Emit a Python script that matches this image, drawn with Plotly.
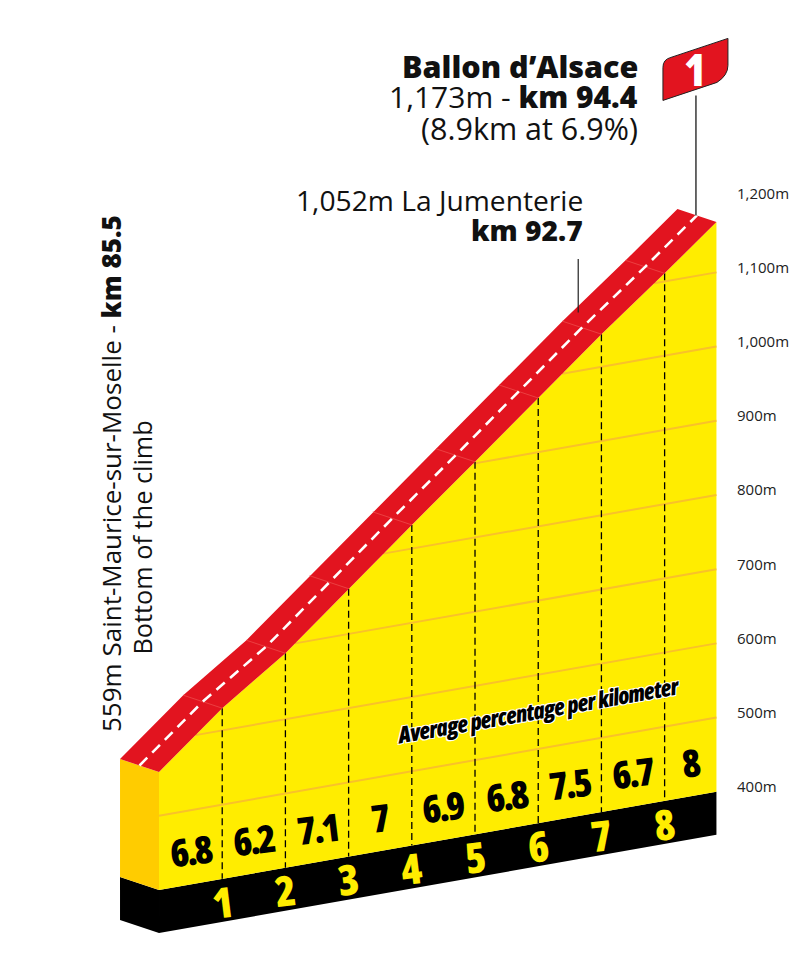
import numpy as np
import plotly.graph_objects as go

# climb profile, km from the bottom of the climb and altitude in metres
km_marks = [0, 1, 2, 3, 4, 5, 6, 7, 8, 8.82]
altitude = [559, 630, 689, 761, 832, 902, 973, 1044, 1111, 1168]
gradients = ["6.8", "6.2", "7.1", "7", "6.9", "6.8", "7.5", "6.7", "8"]
km_labels = ["1", "2", "3", "4", "5", "6", "7", "8"]
tick_alt = [400, 500, 600, 700, 800, 900, 1000, 1100, 1200]
tick_text = ["400m", "500m", "600m", "700m", "800m", "900m", "1,000m", "1,100m", "1,200m"]
grid_alt = [500, 600, 700, 800, 900, 1000, 1100]
km_jumenterie = 7.25
alt_jumenterie = 1052

YELLOW = "#FFED00"
ORANGE = "#FFCC00"
GRID = "#F9C12A"
RED = "#E2141F"
SEAM = "#EE4A4A"

SHEAR = 15.0        # the whole drawing leans up to the right, m per km
KM_REF = 9.25       # km where the altitude axis reads true
DEPTH_KM = -0.617   # road width drawn in perspective
DEPTH_M = 17.5
BASE_ALT = 400
BASE_DROP = 58

km_arr = np.array(km_marks)
alt_arr = np.array(altitude)
km_end = km_marks[-1]


def lean(km, alt):
    return np.asarray(alt, dtype=float) + SHEAR * (np.asarray(km, dtype=float) - KM_REF)


def poly(x, y, color):
    return go.Scatter(x=list(x), y=list(y), mode="lines", fill="toself", fillcolor=color,
                      line=dict(width=0), hoverinfo="skip", showlegend=False)


def line(x, y, color, width, dash="solid"):
    return go.Scatter(x=list(x), y=list(y), mode="lines", line=dict(color=color, width=width, dash=dash),
                      hoverinfo="skip", showlegend=False)


def narrow(s, spacing=0):
    return '<span style="font-stretch:75%;letter-spacing:' + str(spacing) + 'px">' + s + "</span>"


fig = go.Figure()

# base and side of the block
base_x = [0, km_end, km_end, 0]
base_y = [lean(0, BASE_ALT), lean(km_end, BASE_ALT), lean(km_end, BASE_ALT - BASE_DROP), lean(0, BASE_ALT - BASE_DROP)]
fig.add_trace(poly(base_x, base_y, "black"))
fig.add_trace(poly([0, DEPTH_KM, DEPTH_KM, 0],
                   [lean(0, BASE_ALT), lean(0, BASE_ALT) + DEPTH_M, lean(0, BASE_ALT - BASE_DROP) + DEPTH_M, lean(0, BASE_ALT - BASE_DROP)],
                   "black"))
fig.add_trace(poly([0, DEPTH_KM, DEPTH_KM, 0],
                   [lean(0, altitude[0]), lean(0, altitude[0]) + DEPTH_M, lean(0, BASE_ALT) + DEPTH_M, lean(0, BASE_ALT)],
                   ORANGE))

# yellow front
front_x = km_marks + [km_end, 0]
front_y = list(lean(km_arr, alt_arr)) + [lean(km_end, BASE_ALT), lean(0, BASE_ALT)]
fig.add_trace(poly(front_x, front_y, YELLOW))

# altitude lines stop where they meet the profile
for g in grid_alt:
    k0 = float(np.interp(g, alt_arr, km_arr))
    fig.add_trace(line([k0, km_end], [lean(k0, g), lean(km_end, g)], GRID, 2))

# km separators
for k, a in zip(km_marks[1:-1], altitude[1:-1]):
    fig.add_trace(line([k, k], [lean(k, a), lean(k, BASE_ALT)], "black", 1.3, "7px,4px"))

# road
road_x = list(km_arr) + list(km_arr[::-1] + DEPTH_KM)
road_y = list(lean(km_arr, alt_arr)) + list(lean(km_arr, alt_arr)[::-1] + DEPTH_M)
fig.add_trace(poly(road_x, road_y, RED))
for k, a in zip(km_marks[1:-1], altitude[1:-1]):
    fig.add_trace(line([k, k + DEPTH_KM], [lean(k, a), lean(k, a) + DEPTH_M], SEAM, 0.8))
fig.add_trace(line(km_arr + DEPTH_KM / 2, lean(km_arr, alt_arr) + DEPTH_M / 2, "white", 2.6, "11px,7px"))

# leader of La Jumenterie
jum_y = lean(km_jumenterie, alt_jumenterie) + DEPTH_M
fig.add_trace(line([km_jumenterie + DEPTH_KM, km_jumenterie + DEPTH_KM], [jum_y, jum_y + 72], "#222222", 1.2))

# flag on the summit
top_km = km_end + DEPTH_KM / 2
top_y = float(lean(km_end, altitude[-1])) + DEPTH_M / 2
fig.add_shape(type="line", xref="x", yref="y", xsizemode="pixel", ysizemode="pixel",
              xanchor=top_km, yanchor=top_y, x0=-1, x1=-1, y0=0, y1=120,
              line=dict(color="#444444", width=1.6))
fig.add_shape(type="path", xref="x", yref="y", xsizemode="pixel", ysizemode="pixel",
              xanchor=top_km, yanchor=top_y,
              path="M -34 115 L -34 148 Q -34 156 -26 158 L 31 177 L 31 150 Q 31 140 20 133 Z",
              fillcolor=RED, line=dict(color="#222222", width=1))
fig.add_annotation(x=top_km, y=top_y, xref="x", yref="y", xshift=-2, yshift=146, text=narrow("1"), showarrow=False,
                   font=dict(family="Open Sans", size=44, color="white", weight=800))

# gradients and km numbers
for i, g in enumerate(gradients):
    mid = (km_marks[i] + km_marks[i + 1]) / 2
    fig.add_annotation(x=mid, y=float(lean(mid, BASE_ALT + 46)), text=narrow(g, -2.5), showarrow=False, textangle=-7,
                       font=dict(family="Open Sans", size=38, color="black", weight=800))
for k, t in zip(km_marks[1:-1], km_labels):
    fig.add_annotation(x=k, y=float(lean(k, BASE_ALT - 30)), text=narrow(t), showarrow=False, textangle=-7,
                       font=dict(family="Open Sans", size=42, color=YELLOW, weight=800))
fig.add_annotation(x=6.0, y=float(lean(6.0, 553)), text=narrow("Average percentage per kilometer", -0.7), showarrow=False,
                   textangle=-10,
                   font=dict(family="Open Sans", size=23, color="black", weight=800, style="italic",
                             shadow="1px 1px 0 white, -1px -1px 0 white, 1px -1px 0 white, -1px 1px 0 white"))


def note(px, py, text, size=28, anchor="right", angle=0):
    fig.add_annotation(xref="paper", yref="paper", x=px / 812, y=1 - py / 972, text=text, showarrow=False,
                       xanchor=anchor, yanchor="middle", textangle=angle, align=anchor,
                       font=dict(family="Open Sans", size=size, color="#111111"))


def heavy(s):
    return '<span style="font-weight:800">' + s + "</span>"


note(640, 66, heavy("Ballon d’Alsace"), 30.5)
note(640, 96, "1,173m - " + heavy("km 94.4"), 30)
note(640, 128, "(8.9km at 6.9%)", 30.5)
note(585, 200, "1,052m La Jumenterie", 28.2)
note(585, 230, heavy("km 92.7"), 28.2)
note(111, 474, "559m Saint-Maurice-sur-Moselle - " + heavy("km 85.5"), 26, "center", -90)
note(141, 537.5, "Bottom of the climb", 25.3, "center", -90)

fig.update_layout(
    width=812, height=972, margin=dict(l=0, r=0, t=0, b=0),
    paper_bgcolor="white", plot_bgcolor="white", showlegend=False,
    xaxis=dict(range=[-2.516, 10.332], visible=False, fixedrange=True),
    yaxis=dict(range=[150.7, 1460.6], side="right", anchor="free", position=736 / 812,
               tickvals=tick_alt, ticktext=tick_text, showgrid=False, zeroline=False, showline=False,
               ticks="", tickfont=dict(family="Open Sans", size=15, color="#222222"), fixedrange=True),
)
fig.write_html("out.html", config=dict(displayModeBar=False), post_script="document.body.style.margin='0';")
